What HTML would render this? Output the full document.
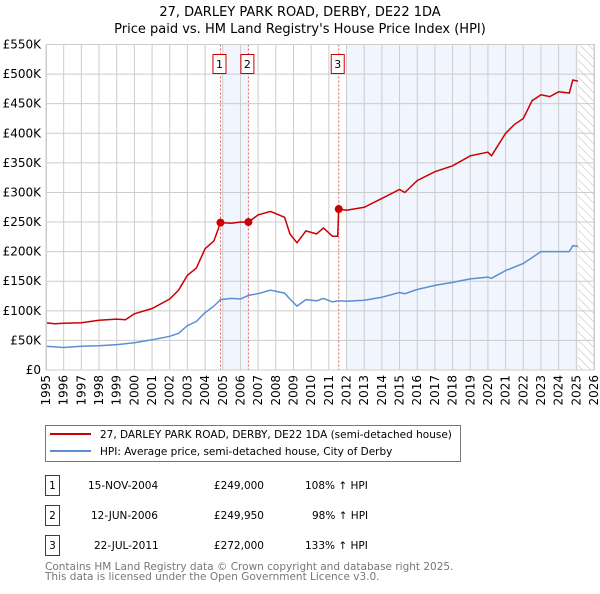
<!DOCTYPE html>
<html><head><meta charset="utf-8"><style>
body{margin:0;background:#fff;font-family:"DejaVu Sans","Liberation Sans",sans-serif}
svg text{font-family:"DejaVu Sans","Liberation Sans",sans-serif}
</style></head><body>
<svg id="c" width="600" height="590" viewBox="0 0 600 590">
<defs><pattern id="hatch" width="6" height="6" patternUnits="userSpaceOnUse" patternTransform="rotate(-45)"><line x1="0" y1="0" x2="0" y2="6" stroke="#bbb" stroke-width="1"/></pattern></defs>
<text x="300" y="16" text-anchor="middle" font-size="13">27, DARLEY PARK ROAD, DERBY, DE22 1DA</text>
<text x="300" y="33" text-anchor="middle" font-size="13">Price paid vs. HM Land Registry's House Price Index (HPI)</text>
<g id="plot"></g>
<g>
<rect x="45.5" y="425.5" width="415" height="36" fill="#fff" stroke="#777"/>
<line x1="50" y1="434" x2="91" y2="434" stroke="#cc0000" stroke-width="2"/>
<text x="100" y="438" font-size="10.5">27, DARLEY PARK ROAD, DERBY, DE22 1DA (semi-detached house)</text>
<line x1="50" y1="451" x2="91" y2="451" stroke="#5b8fd4" stroke-width="2"/>
<text x="100" y="455" font-size="10.5">HPI: Average price, semi-detached house, City of Derby</text>
</g>
<g font-size="10.5">
<rect x="45.5" y="475.5" width="14" height="20" fill="#fff" stroke="#cc0000"/><text x="52.5" y="489" text-anchor="middle">1</text>
<text x="88" y="489">15-NOV-2004</text><text x="264" y="489" text-anchor="end">£249,000</text><text x="305" y="489">108% ↑ HPI</text>
<rect x="45.5" y="505.5" width="14" height="20" fill="#fff" stroke="#cc0000"/><text x="52.5" y="519" text-anchor="middle">2</text>
<text x="91" y="519">12-JUN-2006</text><text x="264" y="519" text-anchor="end">£249,950</text><text x="312" y="519">98% ↑ HPI</text>
<rect x="45.5" y="535.5" width="14" height="20" fill="#fff" stroke="#cc0000"/><text x="52.5" y="549" text-anchor="middle">3</text>
<text x="94" y="549">22-JUL-2011</text><text x="264" y="549" text-anchor="end">£272,000</text><text x="305" y="549">133% ↑ HPI</text>
</g>
<text x="45" y="570" font-size="10.5" fill="#777">Contains HM Land Registry data © Crown copyright and database right 2025.</text>
<text x="45" y="580" font-size="10.5" fill="#777">This data is licensed under the Open Government Licence v3.0.</text>
</svg>
<script>
const yearTicks=[1995,1996,1997,1998,1999,2000,2001,2002,2003,2004,2005,2006,2007,2008,2009,2010,2011,2012,2013,2014,2015,2016,2017,2018,2019,2020,2021,2022,2023,2024,2025,2026];
const valueTicks=[0,50,100,150,200,250,300,350,400,450,500,550];
const valueLabels=["£0","£50K","£100K","£150K","£200K","£250K","£300K","£350K","£400K","£450K","£500K","£550K"];
const priceYears=[1995,1995.5,1996,1997,1998,1999,1999.5,2000,2001,2002,2002.5,2003,2003.5,2004,2004.5,2004.87,2005.5,2006,2006.45,2007,2007.7,2008.5,2008.8,2009.2,2009.7,2010.3,2010.7,2011.2,2011.5,2011.56,2012,2013,2014,2015,2015.3,2016,2017,2018,2019,2020,2020.2,2021,2021.5,2022,2022.5,2023,2023.5,2024,2024.6,2024.8,2025.1];
const priceValues=[80,78,79,80,84,86,85,95,104,120,135,160,172,205,218,249,248,250,249.95,262,268,258,230,215,235,230,240,226,226,272,270,275,290,305,300,320,335,345,362,368,362,400,415,425,455,465,462,470,468,490,488];
const hpiYears=[1995,1996,1997,1998,1999,2000,2001,2002,2002.5,2003,2003.5,2004,2004.5,2004.87,2005.5,2006,2006.45,2007,2007.7,2008.5,2008.8,2009.2,2009.7,2010.3,2010.7,2011.2,2011.56,2012,2013,2014,2015,2015.3,2016,2017,2018,2019,2020,2020.2,2021,2022,2022.5,2023,2024,2024.6,2024.8,2025.1];
const hpiValues=[40,38,40,41,43,46,51,57,62,75,82,97,108,119,121,120,126,129,135,130,120,108,119,117,121,115,117,116,118,123,131,129,136,143,148,154,157,155,168,180,190,200,200,200,210,209];
const saleYears=[2004.87,2006.45,2011.56];
const saleValues=[249,249.95,272];
const saleLabels=["1","2","3"];
const X0=46,X1=594,Y0=370,Y1=44.5;
const x=y=>X0+(y-1995)/(2026-1995)*(X1-X0);
const y=v=>Y0-v/550*(Y0-Y1);
const NS="http://www.w3.org/2000/svg";
const g=document.getElementById('plot');
function mk(t,a,p){const e=document.createElementNS(NS,t);for(const k in a)e.setAttribute(k,a[k]);(p||g).appendChild(e);return e;}
let e;
e=mk('rect',{x:x(2005),y:Y1,width:x(2006.45)-x(2005),height:Y0-Y1,fill:'#eef3fc',opacity:0.8});


e=mk('rect',{x:x(2012),y:Y1,width:x(2025.1)-x(2012),height:Y0-Y1,fill:'#eef3fc',opacity:0.8});


e=mk('rect',{x:x(2025.1),y:Y1,width:X1-x(2025.1),height:Y0-Y1,fill:'url(#hatch)'});


yearTicks.forEach(t=>{
 e=mk('line',{x1:x(t),x2:x(t),y1:Y1,y2:Y0,stroke:'#ccc','stroke-width':1});
 
 
 e=mk('text',{x:0,y:0,'font-size':12,'text-anchor':'end',transform:`translate(${x(t)+4},${Y0+5}) rotate(-90)`});
 e.textContent=t;
 
 
});
valueTicks.forEach((v,i)=>{
 e=mk('line',{x1:X0,x2:X1,y1:y(v),y2:y(v),stroke:'#ccc','stroke-width':1});
 
 
 e=mk('text',{x:X0-5,y:y(v)+4,'font-size':12,'text-anchor':'end'});
 e.textContent=valueLabels[i];
 
 
});
saleYears.forEach((s,i)=>{
 e=mk('line',{x1:x(s),x2:x(s),y1:Y1,y2:Y0,stroke:'#e06060','stroke-dasharray':'2,2','stroke-width':1});
 
 
});
function pts(xs,vs){return xs.map((t,i)=>x(t).toFixed(1)+','+y(vs[i]).toFixed(1)).join(' ');}
e=mk('polyline',{points:pts(hpiYears,hpiValues),fill:'none',stroke:'#5b8fd4','stroke-width':1.5});


e=mk('polyline',{points:pts(priceYears,priceValues),fill:'none',stroke:'#cc0000','stroke-width':1.5});


saleYears.forEach((s,i)=>{
 e=mk('circle',{cx:x(s),cy:y(saleValues[i]),r:4,fill:'#cc0000'});
 
 
 e=mk('rect',{x:x(s)-7.5,y:54.5,width:13,height:19,fill:'#fff',stroke:'#cc0000'});
 
 
 e=mk('text',{x:x(s)-1,y:68,'font-size':11,'text-anchor':'middle'});
 e.textContent=saleLabels[i];
 
 
});
e=mk('rect',{x:X0+0.5,y:Y1,width:X1-X0,height:Y0-Y1,fill:'none',stroke:'#ccc'});


</script>
</body></html>
